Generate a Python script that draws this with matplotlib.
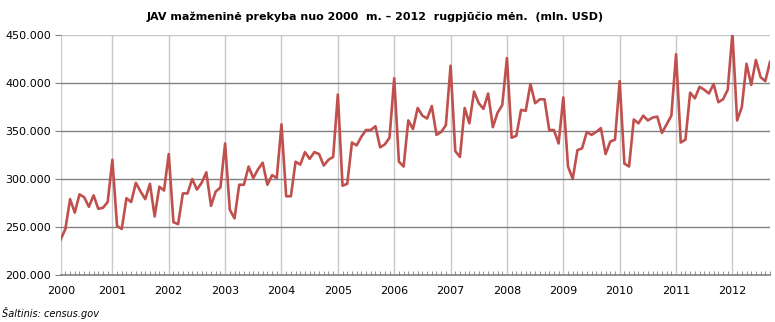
import matplotlib.pyplot as plt
from matplotlib.ticker import FuncFormatter, MultipleLocator

# monthly US retail sales, Jan 2000 - Aug 2012 (mln. USD, thousands)
sales_2000 = [237, 248, 279, 265, 284, 281, 271, 283, 269, 270, 276, 320]
sales_2001 = [251, 248, 280, 276, 296, 287, 279, 295, 261, 292, 288, 326]
sales_2002 = [255, 253, 285, 285, 300, 289, 296, 307, 272, 287, 291, 337]
sales_2003 = [268, 259, 294, 294, 313, 301, 310, 317, 294, 304, 301, 357]
sales_2004 = [282, 282, 318, 315, 328, 321, 328, 326, 314, 320, 323, 388]
sales_2005 = [293, 295, 338, 335, 344, 351, 351, 355, 333, 336, 343, 405]
sales_2006 = [318, 313, 361, 352, 374, 366, 363, 376, 346, 349, 356, 418]
sales_2007 = [329, 323, 374, 358, 391, 379, 373, 389, 354, 369, 377, 426]
sales_2008 = [343, 345, 372, 371, 399, 379, 383, 383, 351, 351, 337, 385]
sales_2009 = [313, 300, 330, 332, 349, 346, 349, 353, 326, 339, 341, 402]
sales_2010 = [316, 313, 362, 358, 366, 361, 364, 365, 348, 357, 366, 430]
sales_2011 = [338, 341, 390, 384, 396, 393, 389, 399, 380, 383, 393, 452]
sales_2012 = [361, 375, 420, 398, 424, 406, 402, 422]

year_labels = ['2000', '2001', '2002', '2003', '2004', '2005', '2006',
               '2007', '2008', '2009', '2010', '2011', '2012']

sales = (sales_2000 + sales_2001 + sales_2002 + sales_2003 + sales_2004 +
         sales_2005 + sales_2006 + sales_2007 + sales_2008 + sales_2009 +
         sales_2010 + sales_2011 + sales_2012)
months = list(range(len(sales)))

# year gridlines sit on the December points (plus the first point)
year_pos = [0] + [11 + 12 * k for k in range(len(year_labels) - 1)]

fig = plt.figure(figsize=(7.75, 3.22), dpi=100)
ax = fig.add_axes([60.7 / 775, 1 - 275 / 322, (770 - 60.7) / 775, 240 / 322])

for p in year_pos:
    ax.axvline(p, color='#c8c8c8', lw=1, zorder=1)
for v in [250, 300, 350, 400]:
    ax.axhline(v, color='#808080', lw=1, zorder=1)
ax.axhline(450, color='#c8c8c8', lw=1, zorder=1)

ax.plot(months, sales, color='#c0504d', lw=1.9, zorder=3, solid_joinstyle='round')

ax.set_xlim(0, len(sales) - 1)
ax.set_ylim(200, 450)

ax.set_xticks(year_pos)
ax.set_xticklabels(year_labels)
ax.xaxis.set_minor_locator(MultipleLocator(1))
ax.tick_params(axis='x', which='major', length=0, pad=8, labelsize=8)
ax.tick_params(axis='x', which='minor', direction='in', length=3,
               color='#909090', width=0.7)

ax.set_yticks([200, 250, 300, 350, 400, 450])
ax.yaxis.set_major_formatter(FuncFormatter(lambda v, _: '%d.000' % v))
ax.tick_params(axis='y', length=4, color='#808080', labelsize=8, pad=3)

for s in ['top', 'right', 'left']:
    ax.spines[s].set_visible(False)
ax.spines['bottom'].set_color('#808080')
ax.spines['bottom'].set_linewidth(1.2)

fig.text(375 / 775, 1 - 17 / 322,
         'JAV mažmeninė prekyba nuo 2000  m. – 2012  rugpjūčio mėn.  (mln. USD)',
         ha='center', va='center', fontsize=8, fontweight='bold')
fig.text(2 / 775, 1 - 313 / 322, 'Šaltinis: census.gov', ha='left',
         va='center', fontsize=7, style='italic')

fig.savefig('out.png', dpi=100)
